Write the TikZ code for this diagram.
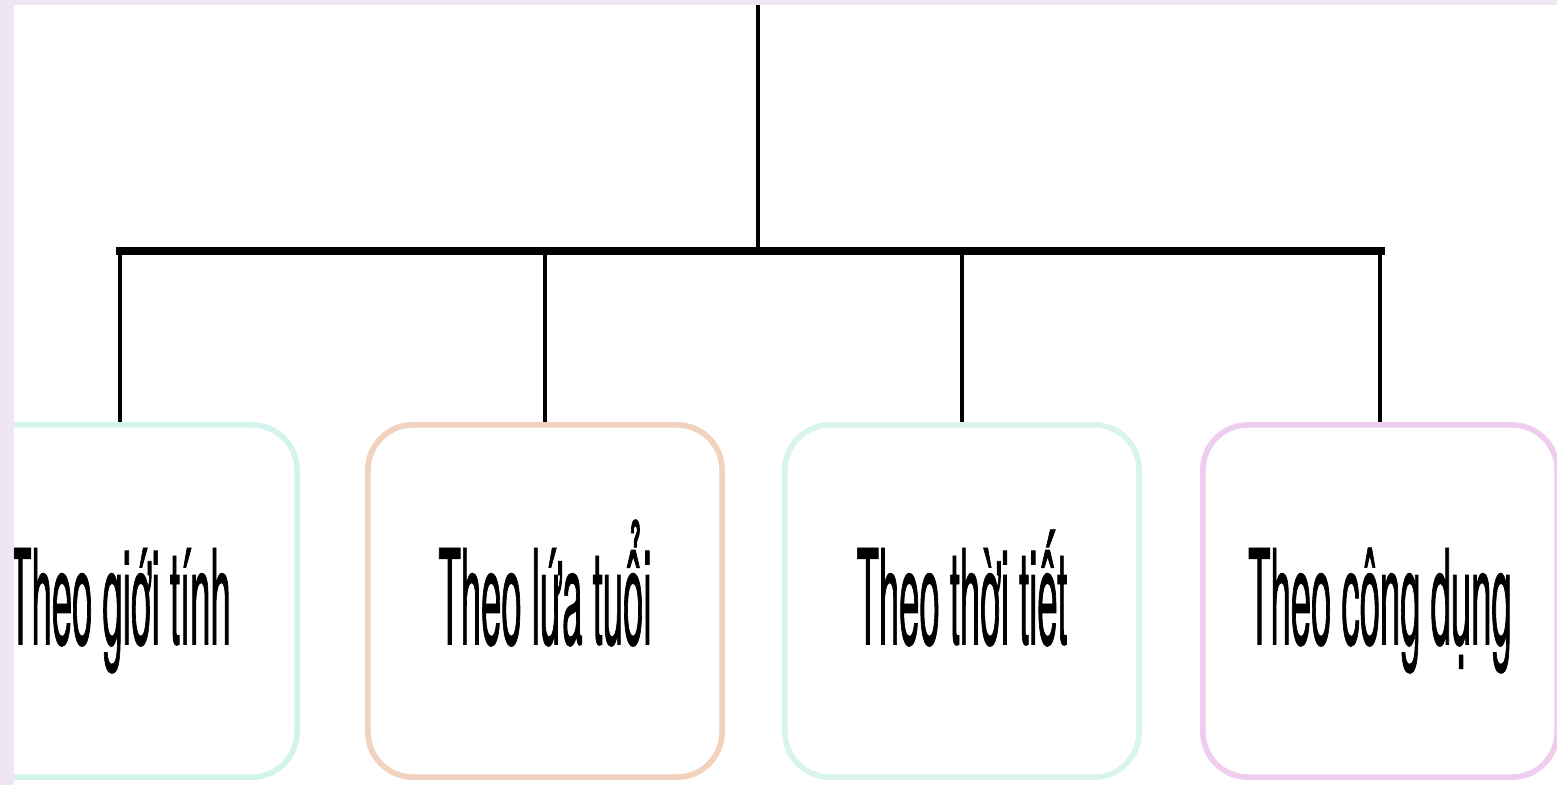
\documentclass[tikz,border=0pt]{standalone}
\XeTeXinputnormalization=1
\usepackage{fontspec}
\setmainfont{TeX Gyre Heros}
\newfontfamily\hepchu[FakeStretch = 0.275, FakeBold = 0.5]{TeX Gyre Heros}
\usepackage{tikz}
\usetikzlibrary{calc, positioning}

\definecolor{nen_tim}{HTML}{EEE6F2}
\definecolor{vien_xanh}{HTML}{D2F4EC}
\definecolor{vien_cam}{HTML}{F0D2BE}
\definecolor{vien_la}{HTML}{D9F4E8}
\definecolor{vien_hong}{HTML}{EFCDEF}

\begin{document}
\begin{tikzpicture}[x = 0.01cm, y = -0.01cm,
        hop/.style = {draw, line width = 1.6pt, rounded corners = 0.45cm, fill = white,
            minimum width = 3.54cm, minimum height = 3.52cm, inner sep = 0pt,
            text height = 1.2cm, text depth = 0.33cm,
            font = \hepchu\fontsize{37.7}{40}\selectfont},
        nhanh/.style = {black, line width = 1.2pt}]
            \useasboundingbox (0, 0) rectangle (1557, 785);
            \fill[white] (0, 0) rectangle (1557, 785);
            
            \coordinate (goc) at (758, 5);
            \coordinate (re) at (758, 251);
            \coordinate (trai) at (120, 251);
            \coordinate (phai) at (1381, 251);
            
            \node[hop, draw = vien_xanh] (gioi_tinh) at (120, 601) {Theo giới tính};
            \node[hop, draw = vien_cam] (lua_tuoi) at (545, 601) {Theo lứa tuổi};
            \node[hop, draw = vien_la] (thoi_tiet) at (962, 601) {Theo thời tiết};
            \node[hop, draw = vien_hong] (cong_dung) at (1380, 601) {Theo công dụng};
            
            \draw[black, line width = 0.9pt] (goc) -- (re);
            \draw[black, line width = 2pt, line cap = rect] (trai) -- (phai);
            
            \draw[nhanh] (gioi_tinh.north |- re) -- (gioi_tinh.north);
            \draw[nhanh] (lua_tuoi.north |- re) -- (lua_tuoi.north);
            \draw[nhanh] (thoi_tiet.north |- re) -- (thoi_tiet.north);
            \draw[nhanh] (cong_dung.north |- re) -- (cong_dung.north);
            
            \fill[nen_tim] (0, 0) rectangle (14, 785);
            \fill[nen_tim] (0, 0) rectangle (1557, 5);
        \end{tikzpicture}
\end{document}
